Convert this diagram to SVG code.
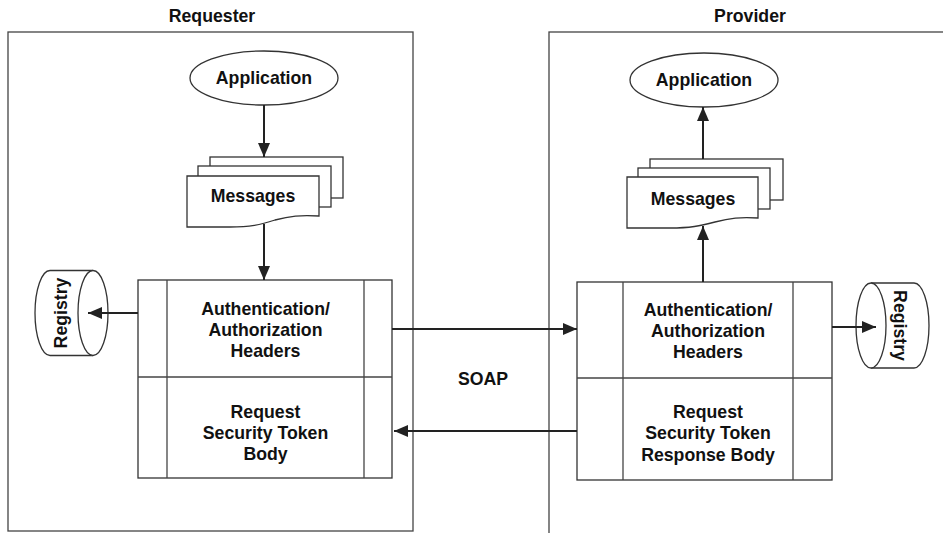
<svg xmlns="http://www.w3.org/2000/svg" width="943" height="533" viewBox="0 0 943 533">
<defs>
<style>
.t{font-family:"Liberation Sans",Arial,sans-serif;font-weight:bold;font-size:17.7px;fill:#111;text-anchor:middle}
.o{fill:#fff;stroke:#333;stroke-width:1.3}
.f{fill:none;stroke:#444;stroke-width:1.3}
.c{fill:none;stroke:#222;stroke-width:2}
</style>
<marker id="ah" markerUnits="userSpaceOnUse" markerWidth="15" markerHeight="12" refX="14" refY="6" orient="auto">
<path d="M0,0 L14,6 L0,12 Z" fill="#222"/>
</marker>
</defs>
<rect width="943" height="533" fill="#fff"/>

<g id="requester">
<rect class="f" x="8" y="32" width="405" height="499"/>
<text class="t" x="212" y="22">Requester</text>
</g>
<g id="provider">
<rect class="f" x="549" y="32" width="420" height="520"/>
<text class="t" x="750" y="22">Provider</text>
</g>

<g id="req-app">
<ellipse class="o" cx="264" cy="78" rx="74" ry="27"/>
<text class="t" x="264" y="84">Application</text>
</g>
<g id="req-messages">
<rect class="o" x="210" y="157" width="133" height="41"/>
<rect class="o" x="198" y="166" width="133" height="41"/>
<path class="o" d="M187,176 H319 V216 C300,215 290,216 275,220 C260,225 250,227 230,227 H187 Z"/>
<text class="t" x="253" y="202">Messages</text>
</g>
<g id="req-registry">
<path class="o" d="M93,270.5 H50 A15,42.5 0 0 0 50,355.5 H93"/>
<ellipse class="o" cx="93" cy="313" rx="15" ry="42.5"/>
<text class="t" transform="translate(67,313) rotate(-90)">Registry</text>
</g>
<g id="req-block">
<rect class="o" x="138" y="280" width="254" height="198"/>
<line class="f" x1="167" y1="280" x2="167" y2="478"/>
<line class="f" x1="364" y1="280" x2="364" y2="478"/>
<line class="f" x1="138" y1="377" x2="392" y2="377"/>
<text class="t" x="265.5" y="315">Authentication/</text>
<text class="t" x="265.5" y="336">Authorization</text>
<text class="t" x="265.5" y="357">Headers</text>
<text class="t" x="265.5" y="418">Request</text>
<text class="t" x="265.5" y="439">Security Token</text>
<text class="t" x="265.5" y="460">Body</text>
</g>

<g id="prov-app">
<ellipse class="o" cx="704" cy="80" rx="74" ry="27"/>
<text class="t" x="704" y="86">Application</text>
</g>
<g id="prov-messages">
<rect class="o" x="650" y="159" width="133" height="41"/>
<rect class="o" x="638" y="168" width="132" height="41"/>
<path class="o" d="M627,177 H758 V218 C740,217 730,218 715,222 C700,226 690,228 670,228 H627 Z"/>
<text class="t" x="693" y="205">Messages</text>
</g>
<g id="prov-registry">
<path class="o" d="M871,283 H914 A15,42.5 0 0 1 914,368 H871"/>
<ellipse class="o" cx="871" cy="325.5" rx="15" ry="42.5"/>
<text class="t" transform="translate(894,325.5) rotate(90)">Registry</text>
</g>
<g id="prov-block">
<rect class="o" x="577" y="282" width="255" height="198"/>
<line class="f" x1="623" y1="282" x2="623" y2="480"/>
<line class="f" x1="793" y1="282" x2="793" y2="480"/>
<line class="f" x1="577" y1="378" x2="832" y2="378"/>
<text class="t" x="708" y="316">Authentication/</text>
<text class="t" x="708" y="337">Authorization</text>
<text class="t" x="708" y="358">Headers</text>
<text class="t" x="708" y="418">Request</text>
<text class="t" x="708" y="439">Security Token</text>
<text class="t" x="708" y="461">Response Body</text>
</g>

<g id="soap-label">
<text class="t" x="483" y="385">SOAP</text>
</g>

<g id="connectors">
<line class="c" x1="264" y1="105" x2="264" y2="157" marker-end="url(#ah)"/>
<line class="c" x1="264" y1="224" x2="264" y2="280" marker-end="url(#ah)"/>
<line class="c" x1="138" y1="313" x2="88" y2="313" marker-end="url(#ah)"/>
<line class="c" x1="392" y1="329" x2="577" y2="329" marker-end="url(#ah)"/>
<line class="c" x1="577" y1="431" x2="394" y2="431" marker-end="url(#ah)"/>
<line class="c" x1="703" y1="282" x2="703" y2="226" marker-end="url(#ah)"/>
<line class="c" x1="703" y1="159" x2="703" y2="107" marker-end="url(#ah)"/>
<line class="c" x1="832" y1="327" x2="876" y2="327" marker-end="url(#ah)"/>
</g>
</svg>
